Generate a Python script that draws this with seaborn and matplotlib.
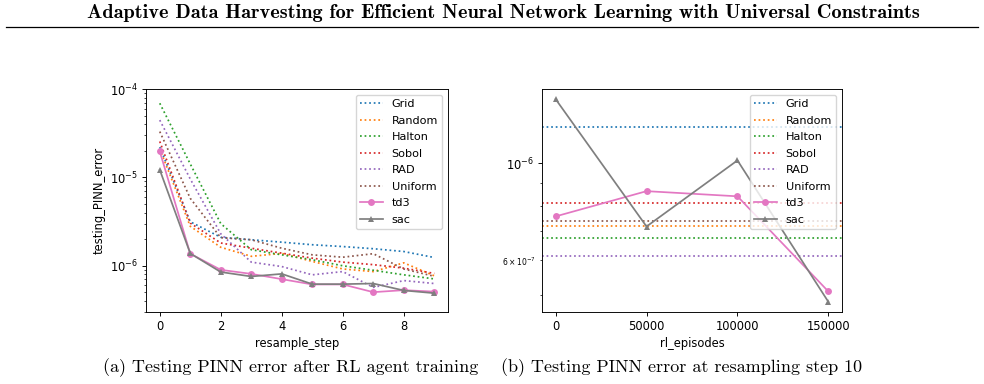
import matplotlib
matplotlib.use("Agg")
import matplotlib.pyplot as plt
import seaborn as sns
import pandas as pd

# (a) testing PINN error after RL agent training, per resample step
steps = list(range(10))
grid_a = [2.2e-5, 3.15e-6, 2.1e-6, 1.97e-6, 1.85e-6, 1.73e-6, 1.65e-6, 1.56e-6, 1.45e-6, 1.24e-6]
random_a = [2.1e-5, 2.8e-6, 1.62e-6, 1.28e-6, 1.38e-6, 1.12e-6, 9.2e-7, 8.6e-7, 1.08e-6, 7.7e-7]
halton_a = [6.9e-5, 1.42e-5, 3.0e-6, 1.52e-6, 1.33e-6, 1.17e-6, 1.0e-6, 8.9e-7, 7.9e-7, 7.1e-7]
sobol_a = [2.55e-5, 3.04e-6, 1.81e-6, 1.58e-6, 1.39e-6, 1.22e-6, 1.1e-6, 1.03e-6, 9.4e-7, 8.2e-7]
rad_a = [4.45e-5, 9.6e-6, 2.3e-6, 1.1e-6, 9.8e-7, 7.9e-7, 8.6e-7, 5.7e-7, 6.8e-7, 6.3e-7]
uniform_a = [3.3e-5, 5.8e-6, 2.08e-6, 1.97e-6, 1.58e-6, 1.33e-6, 1.25e-6, 1.37e-6, 9.2e-7, 7.6e-7]
td3_a = [1.97e-5, 1.37e-6, 9.0e-7, 8.1e-7, 7.06e-7, 6.15e-7, 6.15e-7, 5.03e-7, 5.3e-7, 5.1e-7]
sac_a = [1.22e-5, 1.38e-6, 8.5e-7, 7.57e-7, 8.1e-7, 6.2e-7, 6.2e-7, 6.3e-7, 5.26e-7, 4.9e-7]

# (b) testing PINN error at resampling step 10, per number of RL episodes
episodes = [0, 50000, 100000, 150000]
baseline_b = {"Grid": 1.208e-6, "Random": 7.2e-7, "Halton": 6.76e-7,
              "Sobol": 8.12e-7, "RAD": 6.15e-7, "Uniform": 7.38e-7}
td3_b = [7.56e-7, 8.63e-7, 8.4e-7, 5.1e-7]
sac_b = [1.398e-6, 7.17e-7, 1.014e-6, 4.83e-7]

baseline_names = ["Grid", "Random", "Halton", "Sobol", "RAD", "Uniform"]
baseline_a = [grid_a, random_a, halton_a, sobol_a, rad_a, uniform_a]
colors = sns.color_palette("tab10")

# the figure looks like a default matplotlib plot shrunk to ~83%
S = 0.83
plt.rcParams.update({
    "font.size": 10 * S,
    "legend.fontsize": 8.1,
    "legend.labelspacing": 0.58,
    "axes.linewidth": 0.8 * S,
    "axes.labelpad": 3.0,
    "xtick.major.size": 3.5 * S, "ytick.major.size": 3.5 * S,
    "xtick.minor.size": 2 * S, "ytick.minor.size": 2 * S,
    "xtick.major.pad": 3.0, "ytick.major.pad": 3.5 * S,
    "xtick.minor.pad": 3.4 * S, "ytick.minor.pad": 3.4 * S,
    "xtick.major.width": 0.8 * S, "ytick.major.width": 0.8 * S,
    "xtick.minor.width": 0.6 * S, "ytick.minor.width": 0.6 * S,
})
LW = 1.5 * S
MS = 6 * S

fig = plt.figure(figsize=(9.84, 3.84), dpi=100)

ax1 = fig.add_axes([0.1484, 0.1875, 0.3069, 0.5807])
ax2 = fig.add_axes([0.5508, 0.1875, 0.3049, 0.5807])

# left panel
ax1.set_yscale("log")
for i, (name, vals) in enumerate(zip(baseline_names, baseline_a)):
    df = pd.DataFrame({"resample_step": steps, "testing_PINN_error": vals})
    sns.lineplot(data=df, x="resample_step", y="testing_PINN_error", ax=ax1,
                 color=colors[i], linestyle=":", linewidth=LW, label=name)
df = pd.DataFrame({"resample_step": steps, "testing_PINN_error": td3_a})
sns.lineplot(data=df, x="resample_step", y="testing_PINN_error", ax=ax1,
             color=colors[6], marker="o", markersize=MS, markeredgewidth=0,
             linewidth=LW, label="td3")
df = pd.DataFrame({"resample_step": steps, "testing_PINN_error": sac_a})
sns.lineplot(data=df, x="resample_step", y="testing_PINN_error", ax=ax1,
             color=colors[7], marker="^", markersize=MS, markeredgewidth=0,
             linewidth=LW, label="sac")
ax1.set_ylim(3.0e-7, 1e-4)
ax1.set_xticks([0, 2, 4, 6, 8])
ax1.set_xlabel("resample_step")
ax1.set_ylabel("testing_PINN_error")
ax1.legend(loc="upper right")

# right panel
ax2.set_yscale("log")
for i, name in enumerate(baseline_names):
    ax2.axhline(baseline_b[name], color=colors[i], linestyle=":",
                linewidth=LW, label=name)
df = pd.DataFrame({"rl_episodes": episodes, "err": td3_b})
sns.lineplot(data=df, x="rl_episodes", y="err", ax=ax2, color=colors[6],
             marker="o", markersize=MS, markeredgewidth=0, linewidth=LW,
             label="td3")
df = pd.DataFrame({"rl_episodes": episodes, "err": sac_b})
sns.lineplot(data=df, x="rl_episodes", y="err", ax=ax2, color=colors[7],
             marker="^", markersize=MS, markeredgewidth=0, linewidth=LW,
             label="sac")
ax2.set_xticks([0, 50000, 100000, 150000])
ax2.set_xlabel("rl_episodes")
ax2.set_ylabel("")
ax2.tick_params(axis="y", which="minor", labelsize=5.5)
ax2.legend(loc="upper right")

# page header and sub-captions
fig.text(0.512, 0.966, "Adaptive Data Harvesting for Efficient Neural Network Learning with Universal Constraints",
         ha="center", va="center", fontsize=14.6, fontfamily="cmb10")
fig.add_artist(plt.Line2D([0.006, 0.994], [0.93, 0.93], color="black", linewidth=0.9))
fig.text(0.295, 0.043, "(a) Testing PINN error after RL agent training",
         ha="center", va="center", fontsize=13, fontfamily="cmr10")
fig.text(0.693, 0.043, "(b) Testing PINN error at resampling step 10",
         ha="center", va="center", fontsize=13, fontfamily="cmr10")

fig.savefig("out.png", dpi=100)
